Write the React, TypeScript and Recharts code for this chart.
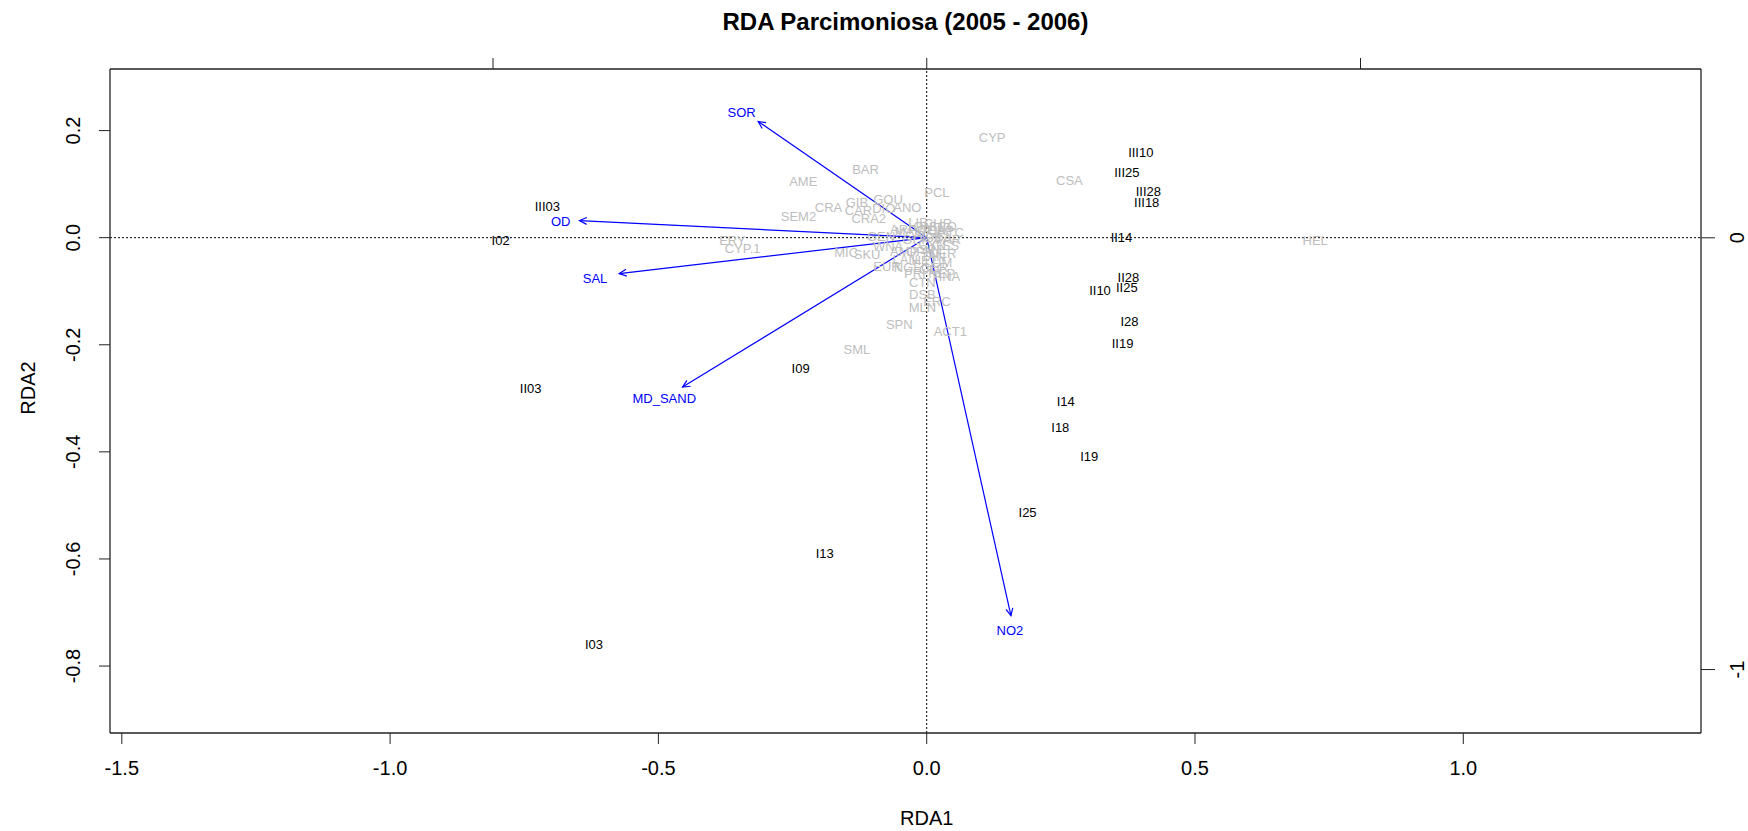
import React from "react";
import { ReferenceLine, Scatter, ScatterChart, XAxis, YAxis } from "recharts";

const FONT = "'Liberation Sans', Arial, Helvetica, sans-serif";

// site scores (black labels)
const siteNames = ["III10", "III25", "III28", "III18", "II14", "II28", "II25", "II10", "I28", "II19", "I14", "I18", "I19", "I25", "I13", "I03", "II03", "I09", "III03", "I02"];
const siteRDA1 = [0.399, 0.373, 0.413, 0.41, 0.363, 0.376, 0.373, 0.323, 0.378, 0.365, 0.259, 0.249, 0.303, 0.188, -0.19, -0.62, -0.738, -0.235, -0.707, -0.794];
const siteRDA2 = [0.16, 0.121, 0.086, 0.066, 0.001, -0.074, -0.093, -0.098, -0.157, -0.197, -0.306, -0.354, -0.408, -0.514, -0.589, -0.76, -0.281, -0.245, 0.059, -0.006];

// species scores (grey labels)
const speciesNames = [
  "CYP", "CSA", "HEL", "PCL", "BAR", "AME", "SEM2", "CRA", "GIB", "GOU", "CAR", "DIO", "ANO", "CRA2", "ERY", "CYP.1", "MIC", "SKU", "EUR", "CTN", "HNA", "DSB", "ERC", "MLN", "SPN", "ACT1", "SML",
  "LIB", "CHR", "PTC", "GSS", "GEN", "WNA", "NGE", "CER", "TAN", "ACA", "BRA", "CYN", "POL", "SPI", "NER", "GLY", "CAP", "AMP", "HET", "LUM", "ONU", "PAR", "MAG", "ARI", "TER", "OPH", "SCO", "PRI", "NEP", "LAN", "OLI",
];
const speciesRDA1 = [
  0.122, 0.266, 0.724, 0.019, -0.114, -0.23, -0.239, -0.183, -0.13, -0.072, -0.127, -0.08, -0.036, -0.108, -0.362, -0.343, -0.15, -0.111, -0.074, -0.008, 0.037, -0.008, 0.019, -0.008, -0.051, 0.044, -0.13,
  -0.016, 0.021, 0.045, 0.035, -0.085, -0.072, -0.035, 0.015, 0.012, 0.0, 0.022, 0.01, -0.01, 0.005, 0.03, -0.022, 0.026, -0.042, -0.004, 0.022, 0.002, 0.04, -0.032, -0.048, 0.012, -0.012, 0.03, -0.022, 0.028, -0.04, 0.005,
];
const speciesRDA2 = [
  0.188, 0.107, -0.006, 0.084, 0.128, 0.105, 0.04, 0.057, 0.065, 0.072, 0.05, 0.055, 0.057, 0.035, -0.005, -0.02, -0.027, -0.031, -0.053, -0.084, -0.072, -0.107, -0.119, -0.13, -0.162, -0.176, -0.208,
  0.029, 0.027, 0.009, -0.015, 0.003, -0.017, -0.055, -0.056, -0.036, 0.005, 0.0, -0.012, 0.016, -0.022, -0.03, -0.004, 0.013, -0.026, -0.042, -0.047, 0.021, -0.004, 0.011, 0.016, 0.014, -0.026, 0.02, -0.066, -0.066, -0.04, -0.06,
];

// environmental vectors (blue arrows)
const envNames = ["SOR", "OD", "SAL", "MD_SAND", "NO2"];
const envRDA1 = [-0.314, -0.647, -0.573, -0.455, 0.157];
const envRDA2 = [0.217, 0.032, -0.067, -0.279, -0.706];
const envLabelRDA1 = [-0.345, -0.682, -0.618, -0.489, 0.155];
const envLabelRDA2 = [0.234, 0.03, -0.077, -0.3, -0.733];

// ticks
const xTicks = [-1.5, -1, -0.5, 0, 0.5, 1];
const yTicks = [0.2, 0, -0.2, -0.4, -0.6, -0.8];
const topTicks = [-1, 0, 1];
const rightTicks = [0, -1];

const siteData = siteNames.map((name, i) => ({ name, x: siteRDA1[i], y: siteRDA2[i] }));
const speciesData = speciesNames.map((name, i) => ({ name, x: speciesRDA1[i], y: speciesRDA2[i] }));
const envLabelData = envNames.map((name, i) => ({ name, x: envLabelRDA1[i], y: envLabelRDA2[i] }));

const BOX = "#222";

const labelShape = (color: string) => (props: any) => {
  const { cx, cy, payload } = props;
  if (cx == null || cy == null) return <g />;
  return (
    <text x={cx} y={cy} textAnchor="middle" dominantBaseline="central" fill={color} fontSize={13} fontFamily={FONT}>
      {payload.name}
    </text>
  );
};

const Arrow = (props: any) => {
  const { x1, y1, x2, y2 } = props;
  const a = Math.atan2(y2 - y1, x2 - x1);
  const len = 8;
  const spread = Math.PI / 7;
  const p1 = `${x2 - len * Math.cos(a - spread)},${y2 - len * Math.sin(a - spread)}`;
  const p2 = `${x2 - len * Math.cos(a + spread)},${y2 - len * Math.sin(a + spread)}`;
  return (
    <g>
      <line x1={x1} y1={y1} x2={x2} y2={y2} stroke="#0000ff" strokeWidth={1.2} />
      <polyline points={`${p1} ${x2},${y2} ${p2}`} fill="none" stroke="#0000ff" strokeWidth={1.2} />
    </g>
  );
};

const BottomTick = (props: any) => {
  const { x, y, payload } = props;
  return (
    <text x={x} y={y + 22} textAnchor="middle" dominantBaseline="central" fontSize={20} fill="#000" fontFamily={FONT}>
      {Number(payload.value).toFixed(1)}
    </text>
  );
};

const LeftTick = (props: any) => {
  const { x, y, payload } = props;
  const cx = x - 24;
  return (
    <text x={cx} y={y} transform={`rotate(-90 ${cx} ${y})`} textAnchor="middle" dominantBaseline="central" fontSize={20} fill="#000" fontFamily={FONT}>
      {Number(payload.value).toFixed(1)}
    </text>
  );
};

const RightTick = (props: any) => {
  const { x, y, payload } = props;
  const cx = x + 20;
  return (
    <text x={cx} y={y} transform={`rotate(-90 ${cx} ${y})`} textAnchor="middle" dominantBaseline="central" fontSize={20} fill="#000" fontFamily={FONT}>
      {String(payload.value)}
    </text>
  );
};

const NoTick = () => <g />;

export default function App() {
  return (
    <div style={{ position: "absolute", left: 0, top: 0, width: 1748, height: 831, background: "#fff", fontFamily: FONT }}>
      <div style={{ position: "absolute", left: 905.5, top: 22, transform: "translate(-50%, -50%)", fontSize: 24, fontWeight: "bold", whiteSpace: "nowrap" }}>
        RDA Parcimoniosa (2005 - 2006)
      </div>
      <div style={{ position: "absolute", left: 926.7, top: 818, transform: "translate(-50%, -50%)", fontSize: 20, whiteSpace: "nowrap" }}>
        RDA1
      </div>
      <div style={{ position: "absolute", left: 28, top: 388, transform: "translate(-50%, -50%) rotate(-90deg)", fontSize: 20, whiteSpace: "nowrap" }}>
        RDA2
      </div>
      <div style={{ position: "absolute", left: 0, top: 0 }}>
        <ScatterChart width={1748} height={831} margin={{ top: 0, right: 0, bottom: 0, left: 0 }}>
          <XAxis
            xAxisId="main"
            type="number"
            dataKey="x"
            orientation="bottom"
            domain={[-1.522, 1.443]}
            ticks={xTicks}
            interval={0}
            allowDataOverflow
            height={98}
            tickSize={11}
            tickMargin={2}
            axisLine={{ stroke: BOX, strokeWidth: 1.3 }}
            tickLine={{ stroke: BOX }}
            tick={<BottomTick />}
          />
          <XAxis
            xAxisId="top"
            type="number"
            dataKey="x"
            orientation="top"
            domain={[-1.883, 1.785]}
            ticks={topTicks}
            interval={0}
            allowDataOverflow
            height={69}
            tickSize={11}
            axisLine={{ stroke: BOX, strokeWidth: 1.3 }}
            tickLine={{ stroke: BOX }}
            tick={<NoTick />}
          />
          <YAxis
            yAxisId="main"
            type="number"
            dataKey="y"
            orientation="left"
            domain={[-0.925, 0.315]}
            ticks={yTicks}
            interval={0}
            allowDataOverflow
            width={110}
            tickSize={11}
            tickMargin={2}
            axisLine={{ stroke: BOX, strokeWidth: 1.3 }}
            tickLine={{ stroke: BOX }}
            tick={<LeftTick />}
          />
          <YAxis
            yAxisId="right"
            type="number"
            dataKey="y"
            orientation="right"
            domain={[-1.147, 0.391]}
            ticks={rightTicks}
            interval={0}
            allowDataOverflow
            width={47}
            tickSize={14}
            tickMargin={2}
            axisLine={{ stroke: BOX, strokeWidth: 1.3 }}
            tickLine={{ stroke: BOX }}
            tick={<RightTick />}
          />
          <ReferenceLine xAxisId="main" yAxisId="main" x={0} stroke="#000" strokeDasharray="2 2" />
          <ReferenceLine xAxisId="main" yAxisId="main" y={0} stroke="#000" strokeDasharray="2 2" />
          <Scatter xAxisId="top" yAxisId="right" data={[]} isAnimationActive={false} />
          <Scatter xAxisId="main" yAxisId="main" data={speciesData} shape={labelShape("#bebebe")} isAnimationActive={false} />
          <Scatter xAxisId="main" yAxisId="main" data={siteData} shape={labelShape("#000")} isAnimationActive={false} />
          {envNames.map((name, i) => (
            <ReferenceLine
              key={name}
              xAxisId="main"
              yAxisId="main"
              segment={[
                { x: 0, y: 0 },
                { x: envRDA1[i], y: envRDA2[i] },
              ]}
              ifOverflow="visible"
              shape={Arrow}
            />
          ))}
          <Scatter xAxisId="main" yAxisId="main" data={envLabelData} shape={labelShape("#0000ff")} isAnimationActive={false} />
        </ScatterChart>
      </div>
    </div>
  );
}
